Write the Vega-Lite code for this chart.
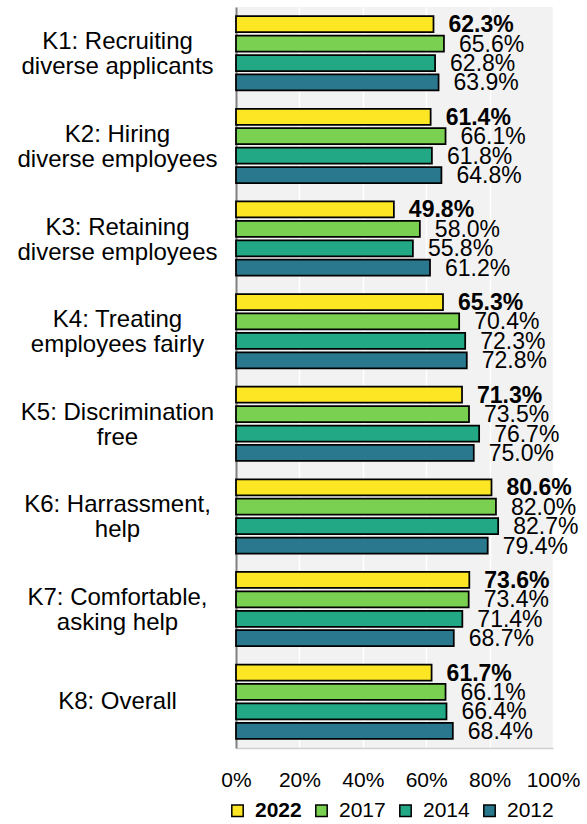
{
  "$schema": "https://vega.github.io/schema/vega-lite/v6.json",
  "width": 317,
  "height": 741,
  "autosize": {"type": "none"},
  "padding": {"left": 236, "top": 7, "right": 34, "bottom": 76},
  "background": "white",
  "config": {"view": {"fill": "#f2f2f2", "stroke": null}, "font": "Liberation Sans"},
  "data": {"values": [
    {"k": "K1: Recruiting|diverse applicants", "year": "2022", "v": 0.623},
    {"k": "K1: Recruiting|diverse applicants", "year": "2017", "v": 0.656},
    {"k": "K1: Recruiting|diverse applicants", "year": "2014", "v": 0.628},
    {"k": "K1: Recruiting|diverse applicants", "year": "2012", "v": 0.639},
    {"k": "K2: Hiring|diverse employees", "year": "2022", "v": 0.614},
    {"k": "K2: Hiring|diverse employees", "year": "2017", "v": 0.661},
    {"k": "K2: Hiring|diverse employees", "year": "2014", "v": 0.618},
    {"k": "K2: Hiring|diverse employees", "year": "2012", "v": 0.648},
    {"k": "K3: Retaining|diverse employees", "year": "2022", "v": 0.498},
    {"k": "K3: Retaining|diverse employees", "year": "2017", "v": 0.580},
    {"k": "K3: Retaining|diverse employees", "year": "2014", "v": 0.558},
    {"k": "K3: Retaining|diverse employees", "year": "2012", "v": 0.612},
    {"k": "K4: Treating|employees fairly", "year": "2022", "v": 0.653},
    {"k": "K4: Treating|employees fairly", "year": "2017", "v": 0.704},
    {"k": "K4: Treating|employees fairly", "year": "2014", "v": 0.723},
    {"k": "K4: Treating|employees fairly", "year": "2012", "v": 0.728},
    {"k": "K5: Discrimination|free", "year": "2022", "v": 0.713},
    {"k": "K5: Discrimination|free", "year": "2017", "v": 0.735},
    {"k": "K5: Discrimination|free", "year": "2014", "v": 0.767},
    {"k": "K5: Discrimination|free", "year": "2012", "v": 0.750},
    {"k": "K6: Harrassment,|help", "year": "2022", "v": 0.806},
    {"k": "K6: Harrassment,|help", "year": "2017", "v": 0.820},
    {"k": "K6: Harrassment,|help", "year": "2014", "v": 0.827},
    {"k": "K6: Harrassment,|help", "year": "2012", "v": 0.794},
    {"k": "K7: Comfortable,|asking help", "year": "2022", "v": 0.736},
    {"k": "K7: Comfortable,|asking help", "year": "2017", "v": 0.734},
    {"k": "K7: Comfortable,|asking help", "year": "2014", "v": 0.714},
    {"k": "K7: Comfortable,|asking help", "year": "2012", "v": 0.687},
    {"k": "K8: Overall", "year": "2022", "v": 0.617},
    {"k": "K8: Overall", "year": "2017", "v": 0.661},
    {"k": "K8: Overall", "year": "2014", "v": 0.664},
    {"k": "K8: Overall", "year": "2012", "v": 0.684}
  ]},
  "encoding": {
    "y": {
      "field": "k", "type": "nominal", "sort": null,
      "scale": {"paddingInner": 0, "paddingOuter": 0},
      "axis": {
        "title": null,
        "labelExpr": "split(datum.label, '|')",
        "labelAlign": "center",
        "labelBaseline": "middle",
        "labelPadding": 119,
        "labelOffset": {"condition": {"test": "indexof(datum.value, '|') >= 0", "value": -11}, "value": 0},
        "labelFontSize": 24,
        "labelLineHeight": 25,
        "labelColor": "black",
        "labelLimit": 0,
        "ticks": false,
        "tickSize": 0,
        "domainColor": "#808080",
        "domainWidth": 2,
        "grid": false
      }
    },
    "yOffset": {
      "field": "year", "type": "nominal",
      "sort": ["2022", "2017", "2014", "2012"],
      "scale": {"paddingInner": 0.175, "paddingOuter": 0.47}
    },
    "x": {
      "field": "v", "type": "quantitative",
      "scale": {"domain": [0, 1], "nice": false},
      "axis": {
        "title": null,
        "values": [0, 0.2, 0.4, 0.6, 0.8, 1],
        "format": ".0%",
        "grid": true,
        "gridColor": "white",
        "gridWidth": 1.5,
        "domainColor": "#d0d0d0",
        "domainWidth": 1.5,
        "ticks": false,
        "tickSize": 0,
        "labelPadding": 21,
        "labelFontSize": 21,
        "labelColor": "black",
        "labelFlush": false
      }
    }
  },
  "layer": [
    {
      "mark": {"type": "bar", "stroke": "black", "strokeWidth": 1.75},
      "encoding": {
        "color": {
          "field": "year", "type": "nominal",
          "scale": {"domain": ["2022", "2017", "2014", "2012"], "range": ["#fde725", "#7ad151", "#22a884", "#2a788e"]},
          "legend": {
            "orient": "none",
            "direction": "horizontal",
            "legendX": -9,
            "legendY": 793,
            "title": null,
            "symbolType": "square",
            "symbolSize": 130,
            "symbolStrokeColor": "black",
            "symbolStrokeWidth": 1.5,
            "labelFontSize": 21,
            "labelColor": "black",
            "labelOffset": 7,
            "columnPadding": 9,
            "padding": 0,
            "encode": {"labels": {"update": {"fontWeight": {"signal": "datum.label == '2022' ? 'bold' : 'normal'"}}}}
          }
        }
      }
    },
    {
      "transform": [{"filter": "datum.year == '2022'"}],
      "mark": {"type": "text", "align": "left", "baseline": "middle", "dx": 15, "dy": 1, "fontSize": 23, "fontWeight": "bold", "color": "black"},
      "encoding": {"text": {"field": "v", "type": "quantitative", "format": ".1%"}}
    },
    {
      "transform": [{"filter": "datum.year != '2022'"}],
      "mark": {"type": "text", "align": "left", "baseline": "middle", "dx": 15, "dy": 1, "fontSize": 23, "color": "black"},
      "encoding": {"text": {"field": "v", "type": "quantitative", "format": ".1%"}}
    }
  ]
}
